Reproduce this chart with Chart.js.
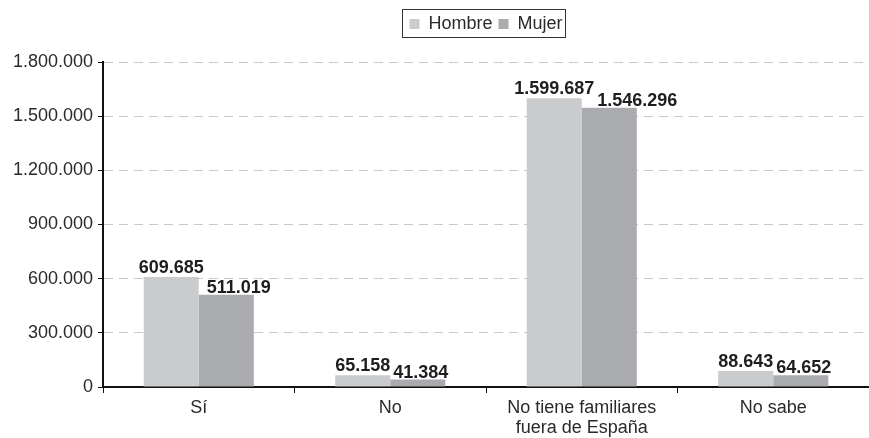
<!DOCTYPE html>
<html>
<head>
<meta charset="utf-8">
<script src="https://cdn.jsdelivr.net/npm/chart.js@4/dist/chart.umd.min.js"></script>
<style>
  html, body { margin: 0; padding: 0; background: #fff; }
  #wrap { width: 869px; height: 438px; }
</style>
</head>
<body>
<div id="wrap"><canvas id="myChart"></canvas></div>
<script>
var categories = ["Sí", "No", ["No tiene familiares", "fuera de España"], "No sabe"];
var hombre = [609685, 65158, 1599687, 88643];
var mujer = [511019, 41384, 1546296, 64652];
var seriesNames = ["Hombre", "Mujer"];
var yMax = 1800000;
var yStep = 300000;

// 1234567 -> "1.234.567"
function fmt(v) {
  return String(Math.round(v)).replace(/\B(?=(\d{3})+(?!\d))/g, ".");
}

var FONT = "'Liberation Sans', Arial, Helvetica, sans-serif";

// draw the values above the bars, pushing the second one right if they overlap
var valueLabels = {
  id: "valueLabels",
  afterDatasetsDraw: function (chart) {
    var ctx = chart.ctx;
    var m0 = chart.getDatasetMeta(0);
    var m1 = chart.getDatasetMeta(1);
    ctx.save();
    ctx.font = "bold 18px " + FONT;
    ctx.fillStyle = "#1e1e1e";
    ctx.textAlign = "center";
    ctx.textBaseline = "alphabetic";
    for (var i = 0; i < categories.length; i++) {
      var b0 = m0.data[i], b1 = m1.data[i];
      var t0 = fmt(hombre[i]), t1 = fmt(mujer[i]);
      var w0 = ctx.measureText(t0).width, w1 = ctx.measureText(t1).width;
      var x0 = b0.x;
      ctx.fillText(t0, x0, b0.y - 4);
      var x1 = Math.max(b1.x, x0 + w0 / 2 + 3 + w1 / 2);
      ctx.fillText(t1, x1, b1.y - 2);
    }
    ctx.restore();
  }
};

// box around the legend, centred over the plot, with some room below it
var legendBox = {
  id: "legendBox",
  afterInit: function (chart) {
    var orig = chart.legend.fit;
    chart.legend.fit = function () {
      orig.call(this);
      this.height += 19;
    };
  },
  afterUpdate: function (chart) {
    var lg = chart.legend;
    var dx = ((chart.chartArea.left + chart.chartArea.right) - (lg.left + lg.right)) / 2;
    lg.left = chart.chartArea.left;
    lg.right = chart.chartArea.right;
    (lg.legendHitBoxes || []).forEach(function (h) { h.left += dx; });
  },
  afterDraw: function (chart) {
    var boxes = chart.legend.legendHitBoxes;
    if (!boxes || !boxes.length) return;
    var first = boxes[0], last = boxes[boxes.length - 1];
    var ctx = chart.ctx;
    ctx.save();
    ctx.strokeStyle = "#333";
    ctx.lineWidth = 1;
    var l = Math.round(first.left) - 6.5, r = Math.round(last.left + last.width) + 2.5;
    var t = Math.round(first.top) - 5.5, b = Math.round(first.top + first.height) + 4.5;
    ctx.strokeRect(l, t, r - l, b - t);
    ctx.restore();
  }
};

var ctx = document.getElementById("myChart").getContext("2d");
var chart = new Chart(ctx, {
  type: "bar",
  data: {
    labels: categories,
    datasets: [
      {
        label: seriesNames[0],
        data: hombre,
        backgroundColor: "#cacbcd",
        barPercentage: 1,
        categoryPercentage: 0.575
      },
      {
        label: seriesNames[1],
        data: mujer,
        backgroundColor: "#aaabae",
        barPercentage: 1,
        categoryPercentage: 0.575
      }
    ]
  },
  options: {
    responsive: true,
    maintainAspectRatio: false,
    animation: false,
    layout: { padding: { top: 9, left: 0, right: 0, bottom: 0 } },
    plugins: {
      tooltip: { enabled: false },
      legend: {
        position: "top",
        labels: {
          boxWidth: 10,
          boxHeight: 10,
          padding: 6,
          color: "#2a2a2a",
          font: { family: FONT, size: 18 }
        }
      }
    },
    scales: {
      x: {
        grid: {
          display: true,
          drawOnChartArea: false,
          drawTicks: true,
          tickLength: 6,
          tickColor: "#111",
          offset: true
        },
        border: { display: true, color: "#111", width: 2 },
        ticks: {
          color: "#2a2a2a",
          padding: 5,
          maxRotation: 0,
          font: { family: FONT, size: 18, lineHeight: 1.12 }
        },
        afterFit: function (scale) { scale.height = 51; }
      },
      y: {
        min: 0,
        max: yMax,
        grid: {
          color: "#c9c9c9",
          lineWidth: 1,
          tickColor: "#111",
          tickLength: 5,
          tickBorderDash: []
        },
        border: { display: true, color: "#111", width: 2, dash: [9, 6] },
        ticks: {
          stepSize: yStep,
          padding: 5,
          color: "#2a2a2a",
          font: { family: FONT, size: 18 },
          callback: function (v) { return fmt(v); }
        },
        afterFit: function (scale) { scale.width = 103; }
      }
    }
  },
  plugins: [valueLabels, legendBox]
});
</script>
</body>
</html>
